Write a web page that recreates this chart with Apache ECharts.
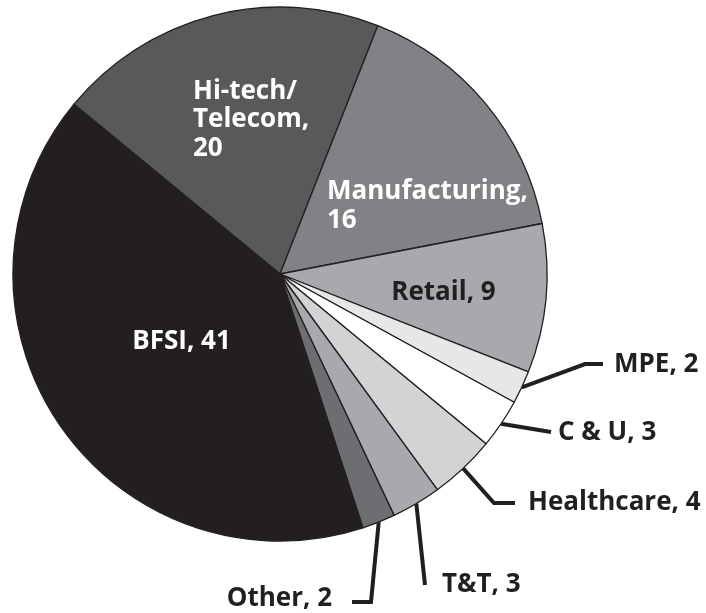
<!DOCTYPE html>
<html><head><meta charset="utf-8">
<script src="https://cdn.jsdelivr.net/npm/echarts@6/dist/echarts.min.js"></script>
<style>html,body{margin:0;padding:0;background:#fff}#c{width:706px;height:613px}</style>
</head><body><div id="c"></div>
<script>
// ---- data ----
const categories = ['Hi-tech/\nTelecom', 'Manufacturing', 'Retail', 'MPE', 'C & U', 'Healthcare', 'T&T', 'Other', 'BFSI'];
const values = [20, 16, 9, 2, 3, 4, 3, 2, 41];
const sliceColors = ['#58595b', '#808285', '#a7a9ac', '#e6e7e8', '#ffffff', '#d1d3d4', '#a7a9ac', '#6d6e71', '#231f20'];

// ---- label styling / placement (presentation only) ----
const insideLabels = {
  0: { x: 193, y: 120, align: 'left', color: '#ffffff', breakValue: true },
  1: { x: 327, y: 206, align: 'left', color: '#ffffff', breakValue: true },
  2: { x: 443.5, y: 293, align: 'center', color: '#231f20' },
  8: { x: 181.5, y: 341.5, align: 'center', color: '#ffffff' }
};
const outsideLabels = {
  3: { x: 614, y: 364.5, align: 'left', pts: [[585, 364], [603, 364]] },
  4: { x: 558, y: 432.5, align: 'left', pts: [[551, 432], [551, 432]] },
  5: { x: 528, y: 502.5, align: 'left', pts: [[494, 503], [515, 503]] },
  6: { x: 442, y: 585, align: 'left', pts: [[425, 585], [425, 585]] },
  7: { x: 332, y: 599, align: 'right', pts: [[371, 602], [352, 602]] }
};

const data = categories.map((name, i) => {
  const inside = insideLabels[i];
  return {
    name: name,
    value: values[i],
    itemStyle: { color: sliceColors[i] },
    label: inside
      ? { position: 'inside', color: inside.color }
      : { position: 'outside', color: '#231f20' },
    labelLine: { show: !inside }
  };
});

const chart = echarts.init(document.getElementById('c'), null, { renderer: 'canvas' });
chart.setOption({
  animation: false,
  backgroundColor: '#ffffff',
  series: [{
    type: 'pie',
    center: [280, 274],
    radius: 267,
    startAngle: 140.5,
    clockwise: true,
    avoidLabelOverlap: false,
    data: data,
    itemStyle: { borderColor: '#231f20', borderWidth: 1.3 },
    emphasis: { disabled: true },
    label: {
      show: true,
      fontFamily: 'Open Sans',
      fontWeight: 'bold',
      fontSize: 26,
      lineHeight: 28.5,
      overflow: 'none',
      formatter: function (p) {
        const cfg = insideLabels[p.dataIndex];
        const sep = cfg && cfg.breakValue ? ',\n' : ', ';
        return p.name + sep + p.value;
      }
    },
    labelLine: {
      length: 5,
      length2: 5,
      smooth: false,
      lineStyle: { color: '#231f20', width: 4 }
    },
    labelLayout: function (params) {
      const i = params.dataIndex;
      const inside = insideLabels[i];
      if (inside) {
        return { x: inside.x, y: inside.y, align: inside.align, verticalAlign: 'middle' };
      }
      const out = outsideLabels[i];
      const start = params.labelLinePoints ? params.labelLinePoints[0] : out.pts[0];
      return {
        x: out.x, y: out.y, align: out.align, verticalAlign: 'middle',
        labelLinePoints: [start, out.pts[0], out.pts[1]]
      };
    }
  }]
});
</script>
</body></html>
